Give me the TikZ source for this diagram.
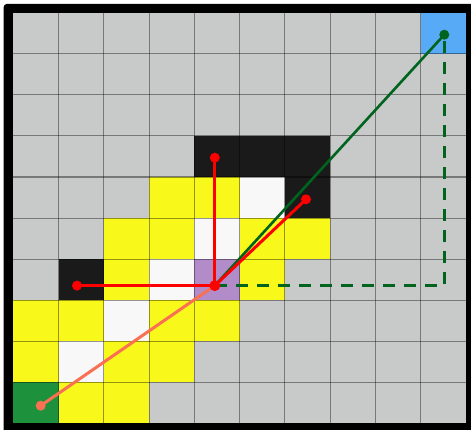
\documentclass[tikz,border=0pt]{standalone}
\definecolor{cgray}{RGB}{200,201,201}
\definecolor{cyellow}{RGB}{248,248,26}
\definecolor{cwhite}{RGB}{248,248,248}
\definecolor{cblack}{RGB}{26,26,26}
\definecolor{cpurple}{RGB}{177,140,201}
\definecolor{cgreen}{RGB}{30,145,60}
\definecolor{cblue}{RGB}{87,170,245}
\definecolor{lred}{RGB}{255,0,0}
\definecolor{ldgreen}{RGB}{0,100,30}
\definecolor{lsalmon}{RGB}{250,112,82}
\newcommand\mycell[3]{\fill[#3] ({13.3+#1*45.25},{12.7+#2*41.07}) rectangle ++(45.25,41.07);}
\tikzset{
  gridline/.style={black, opacity=0.4, line width=1.1pt},
  redline/.style={lred, line width=3pt},
  greenline/.style={ldgreen, line width=2.6pt},
  salmonline/.style={lsalmon, line width=3pt},
  dashline/.style={ldgreen, line width=3pt, dash pattern=on 12pt off 9pt},
  dotstyle/.style={circle, inner sep=0pt, minimum size=#1, draw=none},
}
\begin{document}
\begin{tikzpicture}[x=1pt,y=-1pt]
\useasboundingbox (0,0) rectangle (471,429);
\clip (0,0) rectangle (471,429);
\fill[white] (0,0) rectangle (471,429);
\fill[black, rounded corners=3.5pt] (3.6,3.8) rectangle (490,450);
\fill[cgray] (13.3,12.7) rectangle (465.8,423.4);
% cells
\mycell{9}{0}{cblue}
\mycell{4}{3}{cblack}\mycell{5}{3}{cblack}\mycell{6}{3}{cblack}
\mycell{3}{4}{cyellow}\mycell{4}{4}{cyellow}\mycell{5}{4}{cwhite}\mycell{6}{4}{cblack}
\mycell{2}{5}{cyellow}\mycell{3}{5}{cyellow}\mycell{4}{5}{cwhite}\mycell{5}{5}{cyellow}\mycell{6}{5}{cyellow}
\mycell{1}{6}{cblack}\mycell{2}{6}{cyellow}\mycell{3}{6}{cwhite}\mycell{4}{6}{cpurple}\mycell{5}{6}{cyellow}
\mycell{0}{7}{cyellow}\mycell{1}{7}{cyellow}\mycell{2}{7}{cwhite}\mycell{3}{7}{cyellow}\mycell{4}{7}{cyellow}
\mycell{0}{8}{cyellow}\mycell{1}{8}{cwhite}\mycell{2}{8}{cyellow}\mycell{3}{8}{cyellow}
\mycell{0}{9}{cgreen}\mycell{1}{9}{cyellow}\mycell{2}{9}{cyellow}
% grid
\foreach \i in {1,...,9} {
  \draw[gridline] ({13.3+\i*45.25},12.7) -- ({13.3+\i*45.25},423.4);
  \draw[gridline] (13.3,{12.7+\i*41.07}) -- (465.8,{12.7+\i*41.07});
}
% points
\coordinate (C) at (214.8,285.6);
\coordinate (L) at (77,285.6);
\coordinate (U) at (214.8,157.7);
\coordinate (D) at (306,199.3);
\coordinate (G) at (444.3,34.7);
\coordinate (S) at (40.7,405.7);
\coordinate (K) at (444.3,285.6);
% connectors
\draw[dashline] (C) -- (K) -- (G);
\draw[greenline] (C) -- (G);
\draw[salmonline] (S) -- (C);
\draw[redline] (C) -- (L);
\draw[redline] (C) -- (U);
\draw[redline] (C) -- (D);
% dots
\node[dotstyle=11pt, fill=lred] (cdot) at (C) {};
\node[dotstyle=10pt, fill=lred] (ldot) at (L) {};
\node[dotstyle=10pt, fill=lred] (udot) at (U) {};
\node[dotstyle=10pt, fill=lred] (ddot) at (D) {};
\node[dotstyle=10pt, fill=ldgreen] (gdot) at (G) {};
\node[dotstyle=10pt, fill=lsalmon] (sdot) at (S) {};
\end{tikzpicture}
\end{document}
